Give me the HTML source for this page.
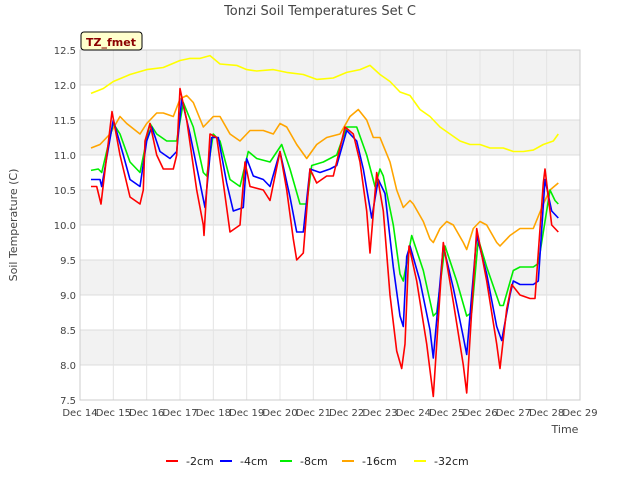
<!DOCTYPE html>
<html><head><meta charset="utf-8"><style>
body{margin:0;background:#fff;font-family:"Liberation Sans",sans-serif}
svg text{font-family:"DejaVu Sans","Liberation Sans",sans-serif}
</style></head><body>
<svg id="chart" width="640" height="480" viewBox="0 0 640 480">
<rect width="640" height="480" fill="#fff"/>
<text x="320" y="15" text-anchor="middle" font-size="13" fill="#444">Tonzi Soil Temperatures Set C</text>
<g id="grid"></g>
<g id="series"></g>
<g id="axes"></g>
<text transform="translate(17,225) rotate(-90)" text-anchor="middle" font-size="11" fill="#444">Soil Temperature (C)</text>
<text x="565" y="433" text-anchor="middle" font-size="11" fill="#444">Time</text>
<g>
<rect x="81" y="32" width="61" height="18" rx="3" fill="#ffffcc" stroke="#000" stroke-width="1"/>
<text x="111" y="46" text-anchor="middle" font-size="11" font-weight="bold" fill="#8b0000">TZ_fmet</text>
</g>
<g id="legend"></g>
</svg>
<script>
const yTicks=[7.5,8.0,8.5,9.0,9.5,10.0,10.5,11.0,11.5,12.0,12.5];
const xTickLabels=["Dec 14","Dec 15","Dec 16","Dec 17","Dec 18","Dec 19","Dec 20","Dec 21","Dec 22","Dec 23","Dec 24","Dec 25","Dec 26","Dec 27","Dec 28","Dec 29"];
const seriesNames=["-2cm","-4cm","-8cm","-16cm","-32cm"];
const seriesColors=["#ff0000","#0000ff","#00ee00","#ffa500","#ffff00"];
const daysA=[0.33,0.5,0.63,0.96,1.2,1.5,1.8,1.9,1.95,2.1,2.3,2.5,2.8,2.9,3.0,3.2,3.5,3.7,3.72,3.9,4.1,4.3,4.5,4.8,4.95,5.1,5.5,5.7,6.0,6.2,6.4,6.5,6.7,6.9,7.1,7.4,7.6,7.95,8.2,8.4,8.6,8.7,8.9,9.1,9.3,9.5,9.65,9.75,9.87,10.1,10.4,10.6,10.9,11.2,11.5,11.6,11.9,12.2,12.5,12.6,12.8,12.95,13.2,13.5,13.65,13.9,13.95,14.15,14.35];
const temp2=[10.55,10.55,10.3,11.62,11.0,10.4,10.3,10.5,11.2,11.45,11.0,10.8,10.8,11.0,11.95,11.5,10.5,10.0,9.85,11.3,11.25,10.6,9.9,10.0,10.9,10.55,10.5,10.35,11.05,10.5,9.8,9.5,9.6,10.8,10.6,10.7,10.7,11.4,11.3,10.9,10.2,9.6,10.75,10.2,9.0,8.2,7.95,8.3,9.7,9.2,8.3,7.55,9.75,8.9,8.0,7.6,9.95,9.2,8.3,7.95,8.8,9.15,9.0,8.95,8.95,10.6,10.8,10.0,9.9];
const daysB=[0.33,0.6,0.65,1.0,1.3,1.5,1.8,2.0,2.15,2.4,2.7,2.9,3.05,3.3,3.6,3.75,3.95,4.15,4.4,4.6,4.9,5.0,5.2,5.5,5.7,6.0,6.3,6.5,6.7,6.9,7.2,7.5,7.7,8.0,8.3,8.5,8.75,8.95,9.15,9.4,9.6,9.7,9.8,9.9,10.2,10.5,10.6,10.9,11.2,11.5,11.6,11.9,12.2,12.5,12.65,12.9,13.0,13.2,13.6,13.75,13.95,14.15,14.35];
const temp4=[10.65,10.65,10.55,11.5,11.0,10.65,10.55,11.2,11.4,11.05,10.95,11.05,11.8,11.3,10.6,10.25,11.25,11.25,10.6,10.2,10.25,10.95,10.7,10.65,10.55,11.05,10.4,9.9,9.9,10.8,10.75,10.8,10.85,11.35,11.2,10.8,10.1,10.65,10.45,9.4,8.7,8.55,9.55,9.7,9.2,8.5,8.1,9.7,9.1,8.4,8.15,9.85,9.3,8.55,8.35,9.0,9.2,9.15,9.15,9.2,10.65,10.2,10.1];
const daysC=[0.33,0.55,0.65,1.0,1.2,1.5,1.8,2.1,2.3,2.6,2.9,3.1,3.4,3.7,3.8,4.0,4.2,4.5,4.8,5.05,5.3,5.7,6.05,6.3,6.6,6.8,6.95,7.3,7.7,8.0,8.3,8.6,8.85,9.0,9.1,9.4,9.6,9.7,9.95,10.3,10.6,10.7,10.95,11.3,11.6,11.75,11.95,12.2,12.6,12.7,13.0,13.2,13.6,13.75,14.1,14.25,14.35];
const temp8=[10.78,10.8,10.75,11.45,11.3,10.9,10.75,11.45,11.3,11.2,11.2,11.75,11.4,10.75,10.7,11.3,11.2,10.65,10.55,11.05,10.95,10.9,11.15,10.8,10.3,10.3,10.85,10.9,11.0,11.4,11.4,11.0,10.55,10.8,10.7,10.0,9.3,9.2,9.85,9.35,8.7,8.75,9.7,9.2,8.7,8.75,9.8,9.4,8.85,8.85,9.35,9.4,9.4,9.45,10.5,10.35,10.3];
const daysD=[0.33,0.6,0.9,1.2,1.4,1.8,2.0,2.3,2.5,2.8,3.0,3.2,3.4,3.7,3.8,4.0,4.2,4.5,4.8,5.1,5.5,5.8,6.0,6.2,6.5,6.8,7.1,7.4,7.8,8.1,8.35,8.6,8.8,9.0,9.3,9.5,9.7,9.9,10.0,10.3,10.5,10.6,10.8,11.0,11.2,11.5,11.6,11.8,12.0,12.2,12.5,12.6,12.9,13.2,13.6,13.9,14.1,14.35];
const temp16=[11.1,11.15,11.3,11.55,11.45,11.3,11.45,11.6,11.6,11.55,11.8,11.85,11.75,11.4,11.45,11.55,11.55,11.3,11.2,11.35,11.35,11.3,11.45,11.4,11.15,10.95,11.15,11.25,11.3,11.55,11.65,11.5,11.25,11.25,10.9,10.5,10.25,10.35,10.3,10.05,9.8,9.75,9.95,10.05,10.0,9.75,9.65,9.95,10.05,10.0,9.75,9.7,9.85,9.95,9.95,10.3,10.5,10.6];
const daysE=[0.33,0.7,1.0,1.5,2.0,2.5,3.0,3.3,3.6,3.9,4.2,4.7,5.0,5.3,5.8,6.2,6.7,7.1,7.6,8.0,8.4,8.7,9.0,9.3,9.6,9.9,10.2,10.5,10.8,11.1,11.4,11.7,12.0,12.3,12.7,13.0,13.3,13.6,13.9,14.2,14.35];
const temp32=[11.88,11.95,12.05,12.15,12.22,12.25,12.35,12.38,12.38,12.42,12.3,12.28,12.22,12.2,12.22,12.18,12.15,12.08,12.1,12.18,12.22,12.28,12.15,12.05,11.9,11.85,11.65,11.55,11.4,11.3,11.2,11.15,11.15,11.1,11.1,11.05,11.05,11.07,11.15,11.2,11.3];

const X0=80,X1=580,Y0=400,Y1=50;
function xs(d){return X0+(d/15)*(X1-X0);}
function ys(v){return Y0-(v-7.5)/5*(Y0-Y1);}
const NS="http://www.w3.org/2000/svg";
function mk(tag,attrs,parent){const e=document.createElementNS(NS,tag);for(const k in attrs)e.setAttribute(k,attrs[k]);parent.appendChild(e);return e;}
const grid=document.getElementById('grid'),axes=document.getElementById('axes'),ser=document.getElementById('series'),leg=document.getElementById('legend');
mk('rect',{x:X0,y:Y1,width:X1-X0,height:Y0-Y1,fill:'#fff',stroke:'none'},grid);
for(let i=0;i<yTicks.length-1;i++){
  if(i%2===1){const r=mk('rect',{x:X0,y:ys(yTicks[i+1]),width:X1-X0,height:ys(yTicks[i])-ys(yTicks[i+1]),fill:'#f2f2f2'},grid);
  
  }
}
yTicks.forEach(v=>{
  const l=mk('line',{x1:X0,x2:X1,y1:ys(v),y2:ys(v),stroke:'#dcdcdc','stroke-width':1},grid);
  
  
  const t=mk('text',{x:X0-4,y:ys(v)+4,'text-anchor':'end','font-size':10,fill:'#444'},axes);
  
  
  t.textContent=v.toFixed(1);
});
xTickLabels.forEach((s,i)=>{
  const l=mk('line',{x1:xs(i),x2:xs(i),y1:Y1,y2:Y0,stroke:'#e4e4e4','stroke-width':1},grid);
  
  
  const t=mk('text',{x:xs(i),y:Y0+16,'text-anchor':'middle','font-size':10,fill:'#444'},axes);
  
  
  t.textContent=s;
});
const ax=mk('rect',{x:X0,y:Y1,width:X1-X0,height:Y0-Y1,fill:'none',stroke:'#ccc'},axes);


const allDays=[daysA,daysB,daysC,daysD,daysE],allTemps=[temp2,temp4,temp8,temp16,temp32];
for(let s=4;s>=0;s--){
  const pts=allDays[s].map((d,i)=>xs(d).toFixed(1)+','+ys(allTemps[s][i]).toFixed(1)).join(' ');
  const p=mk('polyline',{points:pts,fill:'none',stroke:seriesColors[s],'stroke-width':1.6,'stroke-linejoin':'round'},ser);
  
  
}
const lx=[166,220,280,342,414];
seriesNames.forEach((n,i)=>{
  const g=mk('g',{},leg);
  
  
  mk('line',{x1:lx[i],x2:lx[i]+12,y1:461,y2:461,stroke:seriesColors[i],'stroke-width':2},g);
  const t=mk('text',{x:lx[i]+20,y:465,'font-size':11,fill:'#222'},g);
  t.textContent=n;
});
</script>
</body></html>
